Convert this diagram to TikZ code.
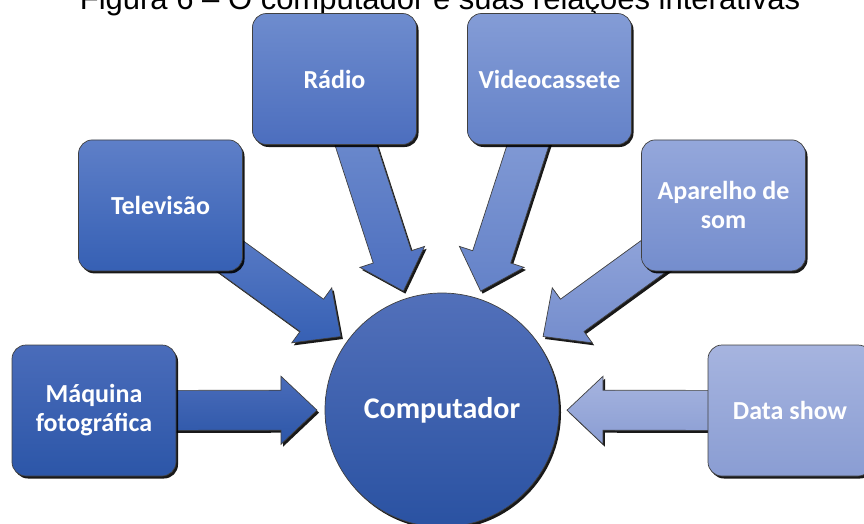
\documentclass[tikz,border=0pt]{standalone}
\usepackage{fontspec}
\setmainfont{Carlito}
\newfontfamily\titlefont{Liberation Sans}
\usetikzlibrary{calc,shadows}

% colours of the boxes (top / bottom of the gradient)
\definecolor{pcT}{RGB}{82,112,186}\definecolor{pcB}{RGB}{42,82,162}
\definecolor{mqT}{RGB}{74,108,186}\definecolor{mqB}{RGB}{44,86,168}
\definecolor{tvT}{RGB}{94,127,200}\definecolor{tvB}{RGB}{54,96,180}
\definecolor{rdT}{RGB}{110,140,206}\definecolor{rdB}{RGB}{76,110,190}
\definecolor{vcT}{RGB}{132,156,214}\definecolor{vcB}{RGB}{100,130,200}
\definecolor{asT}{RGB}{148,167,219}\definecolor{asB}{RGB}{116,141,205}
\definecolor{dsT}{RGB}{166,180,223}\definecolor{dsB}{RGB}{138,157,211}

\pgfdeclarelayer{bg}
\pgfsetlayers{bg,main}

\tikzset{
  softshadow/.style={drop shadow={shadow xshift=2pt, shadow yshift=-2.5pt, opacity=0.9, fill=black}},
  item/.style={rounded corners=14pt, minimum width=164pt, minimum height=131pt,
    align=center, text=white, font=\fontsize{26}{29}\selectfont\bfseries,
    draw=black!75, line width=0.7pt, softshadow},
  hub/.style={circle, minimum size=234pt, inner sep=0pt, text=white,
    font=\fontsize{30}{32}\selectfont\bfseries,
    draw=black!75, line width=0.7pt, softshadow, top color=pcT, bottom color=pcB},
}

% block arrow from a box towards the central circle
\newcommand\feedarrow[3]{%
  \coordinate (t) at ($(pc.center)!125pt!(#1.center)$);
  \coordinate (b) at ($(pc.center)!161pt!(#1.center)$);
  \coordinate (e) at ($(pc.center)!300pt!(#1.center)$);
  \path[top color=#2, bottom color=#3, draw=black!75, line width=0.7pt, softshadow]
    ($(b)!34pt!90:(t)$) -- (t) -- ($(b)!34pt!-90:(t)$) -- ($(b)!20pt!-90:(t)$)
    -- ($(e)!20pt!-90:(t)$) -- ($(e)!20pt!90:(t)$) -- ($(b)!20pt!90:(t)$) -- cycle;
}

\begin{document}
\begin{tikzpicture}[x=1pt,y=-1pt]
  \useasboundingbox (0,0) rectangle (864,524);
  \clip (0,0) rectangle (864,524);

  \node[font=\titlefont\fontsize{31}{31}\selectfont, anchor=base] (title) at (440,10)
    {Figura 6 – O computador e suas relações interativas};

  \node[hub] (pc) at (442,410) {Computador};

  \node[item, top color=mqT, bottom color=mqB] (mq) at (94,410.5) {Máquina\\fotográfica};
  \node[item, top color=tvT, bottom color=tvB] (tv) at (160.5,205.4) {Televisão};
  \node[item, top color=rdT, bottom color=rdB] (rd) at (334.5,79) {Rádio};
  \node[item, top color=vcT, bottom color=vcB] (vc) at (549.5,79) {Videocassete};
  \node[item, top color=asT, bottom color=asB] (as) at (723.5,205.4) {Aparelho de\\som};
  \node[item, top color=dsT, bottom color=dsB] (ds) at (790,410.5) {Data show};

  \begin{pgfonlayer}{bg}
    \feedarrow{mq}{mqT}{mqB}
    \feedarrow{tv}{tvT}{tvB}
    \feedarrow{rd}{rdT}{rdB}
    \feedarrow{vc}{vcT}{vcB}
    \feedarrow{as}{asT}{asB}
    \feedarrow{ds}{dsT}{dsB}
  \end{pgfonlayer}
\end{tikzpicture}
\end{document}
